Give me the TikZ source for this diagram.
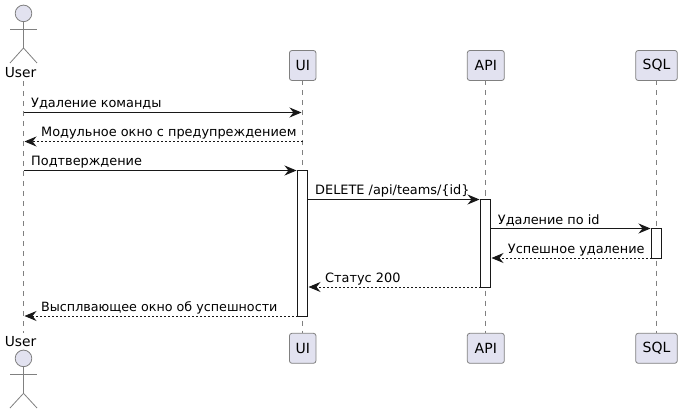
\documentclass[tikz,border=0pt]{standalone}
\usepackage{fontspec}
\setmainfont{DejaVu Sans}
\usetikzlibrary{arrows.meta}
\definecolor{pfill}{HTML}{E2E2F0}
\definecolor{pline}{HTML}{181818}
\definecolor{gline}{HTML}{808080}
\tikzset{
  x=1pt,y=-1pt,
  part/.style={draw=gline,line width=.8pt,fill=pfill,rounded corners=2.5pt,minimum height=30pt,inner sep=0pt,font=\fontsize{14}{14}\selectfont,text=black},
  life/.style={draw=gline,line width=.8pt,dash pattern=on 5pt off 5pt},
  act/.style={draw=pline,line width=.9pt,fill=white,inner sep=0pt,minimum width=10pt},
  msg/.style={draw=pline,line width=.9pt,-{Stealth[length=12pt,width=10pt,inset=4pt]}},
  ret/.style={msg,dash pattern=on 2pt off 2pt},
  lbl/.style={anchor=base west,inner sep=0pt,font=\fontsize{12.88}{13}\selectfont,text=black},
  lbls/.style={lbl,font=\fontsize{12.72}{13}\selectfont},
  limb/.style={draw=gline,line width=.8pt},
  head/.style={circle,draw=gline,line width=.8pt,fill=pfill,minimum size=16.6pt,inner sep=0pt},
  aname/.style={anchor=base,inner sep=0pt,font=\fontsize{13.8}{14}\selectfont,text=black},
}
\begin{document}
\begin{tikzpicture}
\useasboundingbox (0,0) rectangle (682,414);
\fill[white] (0,0) rectangle (682,414);
% participants
\node[part,minimum width=26.5pt] (uiT) at (302.7,65.5) {UI};
\node[part,minimum width=37pt] (apiT) at (485.8,65.5) {API};
\node[part,minimum width=41.6pt] (sqlT) at (656.5,65.5) {SQL};
\node[part,minimum width=26.5pt] (uiB) at (302.7,348.3) {UI};
\node[part,minimum width=37pt] (apiB) at (485.8,348.3) {API};
\node[part,minimum width=41.6pt] (sqlB) at (656.5,348.3) {SQL};
% lifelines
\coordinate (uT) at (23.5,81);
\coordinate (uB) at (23.5,333);
\draw[life] (uT) -- (uB);
\draw[life] (302.5,80.5) -- (302.5,333.3);
\draw[life] (485.5,80.5) -- (485.5,333.3);
\draw[life] (656.5,80.5) -- (656.5,333.3);
% actors
\node[aname] (userTl) at (20.5,77.5) {User};
\node[head] (headT) at (23.5,13.4) {};
\coordinate (neckT) at (23.5,48);
\draw[limb] (headT.south) -- (neckT);
\draw[limb] (10,29) -- (37,29);
\draw[limb] (10,63) -- (neckT) -- (37,63);
\node[aname] (userBl) at (20.5,346.5) {User};
\node[head] (headB) at (23.5,358.4) {};
\coordinate (neckB) at (23.5,393.3);
\draw[limb] (headB.south) -- (neckB);
\draw[limb] (10,374.3) -- (37,374.3);
\draw[limb] (10,408) -- (neckB) -- (37,408);
% activations
\node[act,minimum height=146pt] (aUI) at (302.5,243.5) {};
\node[act,minimum height=88pt] (aAPI) at (485.5,243.5) {};
\node[act,minimum height=29.5pt] (aSQL) at (656.5,243.25) {};
% message ends
\coordinate (a1) at (23.5,112.5); \coordinate (b1) at (301.5,112.5);
\coordinate (a2) at (302.5,141.5); \coordinate (b2) at (24.5,141.5);
\coordinate (a3) at (23.5,170.5); \coordinate (b3) at (296.5,170.5);
\coordinate (a4) at (307.5,199.5); \coordinate (b4) at (479.5,199.5);
\coordinate (a5) at (490.5,228.5); \coordinate (b5) at (650.5,228.5);
\coordinate (a6) at (651.5,258); \coordinate (b6) at (491.5,258);
\coordinate (a7) at (480.5,287); \coordinate (b7) at (308.5,287);
\coordinate (a8) at (297.5,316); \coordinate (b8) at (24.5,316);
\draw[msg] (a1) -- (b1);
\draw[ret] (a2) -- (b2);
\draw[msg] (a3) -- (b3);
\draw[msg] (a4) -- (b4);
\draw[msg] (a5) -- (b5);
\draw[ret] (a6) -- (b6);
\draw[ret] (a7) -- (b7);
\draw[ret] (a8) -- (b8);
% labels
\node[lbl] (l1) at (31,107.6) {Удаление команды};
\node[lbl] (l2) at (41,136.6) {Модульное окно с предупреждением};
\node[lbl] (l3) at (31,165.6) {Подтверждение};
\node[lbl] (l4) at (315,194.6) {DELETE /api/teams/\{id\}};
\node[lbl] (l5) at (497.7,224) {Удаление по id};
\node[lbl] (l6) at (507.7,253) {Успешное удаление};
\node[lbl] (l7) at (325,282) {Статус 200};
\node[lbls] (l8) at (41,311) {Высплвающее окно об успешности};
\end{tikzpicture}
\end{document}
